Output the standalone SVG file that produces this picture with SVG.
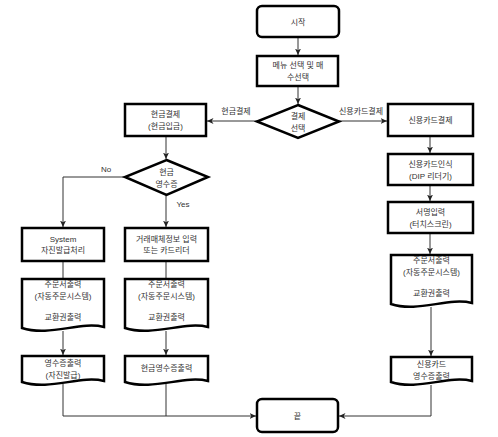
<svg xmlns="http://www.w3.org/2000/svg" width="498" height="437" viewBox="0 0 498 437">
<defs>
<style>
.b{fill:#fff;stroke:#000;stroke-width:2.5}
.c{fill:none;stroke:#333;stroke-width:1}
text{font-family:"Liberation Sans","Noto Sans CJK KR",sans-serif;font-size:8px;fill:#333;text-anchor:middle}
</style>
<marker id="a" viewBox="0 0 7 7" refX="6.5" refY="3.5" markerWidth="7" markerHeight="7" markerUnits="userSpaceOnUse" orient="auto">
<path d="M0,0.5 L6.5,3.5 L0,6.5 L1.8,3.5 z" fill="#222"/>
</marker>
</defs>
<g id="connectors">
<path class="c" d="M298,37 V55" marker-end="url(#a)"/>
<path class="c" d="M298,86 V104" marker-end="url(#a)"/>
<path class="c" d="M257,121 H207" marker-end="url(#a)"/>
<path class="c" d="M339,121 H387" marker-end="url(#a)"/>
<path class="c" d="M166,136 V159" marker-end="url(#a)"/>
<path class="c" d="M125,177 H63 V227" marker-end="url(#a)"/>
<path class="c" d="M166,195 V227" marker-end="url(#a)"/>
<path class="c" d="M63,261 V279"/>
<path class="c" d="M166,261 V279"/>
<path class="c" d="M63,331 V355" marker-end="url(#a)"/>
<path class="c" d="M166,331 V355" marker-end="url(#a)"/>
<path class="c" d="M63,384 V416 H256" marker-end="url(#a)"/>
<path class="c" d="M166,384 V416"/>
<path class="c" d="M430,136 V153" marker-end="url(#a)"/>
<path class="c" d="M430,185 V201" marker-end="url(#a)"/>
<path class="c" d="M430,233 V254" marker-end="url(#a)"/>
<path class="c" d="M431,307 V356" marker-end="url(#a)"/>
<path class="c" d="M431,385 V416 H339" marker-end="url(#a)"/>
<text x="236" y="114">현금결제</text>
<text x="361" y="114">신용카드결제</text>
<text x="106" y="172">No</text>
<text x="183" y="207">Yes</text>
</g>
<g id="start"><rect class="b" x="257" y="6" width="82" height="31" rx="5"/><text x="298" y="25">시작</text></g>
<g id="menu"><rect class="b" x="257" y="56" width="81" height="30"/><text x="298" y="68">메뉴 선택 및 매</text><text x="298" y="80">수선택</text></g>
<g id="paychoice"><path class="b" d="M298,105 L339,121.5 L298,138 L257,121.5 Z"/><text x="298" y="119">결제</text><text x="298" y="131">선택</text></g>
<g id="cash"><rect class="b" x="125" y="104" width="81" height="32"/><text x="165.5" y="117">현금결제</text><text x="165.5" y="129">(현금입금)</text></g>
<g id="credit"><rect class="b" x="388" y="104" width="85" height="32"/><text x="430.5" y="123">신용카드결제</text></g>
<g id="cardread"><rect class="b" x="388" y="154" width="85" height="31"/><text x="430.5" y="167">신용카드인식</text><text x="430.5" y="179">(DIP 리더기)</text></g>
<g id="sign"><rect class="b" x="388" y="202" width="85" height="31"/><text x="430.5" y="215">서명입력</text><text x="430.5" y="227">(터치스크린)</text></g>
<g id="receiptq"><path class="b" d="M166.5,160 L208,177 L166.5,195 L125,177 Z"/><text x="166.5" y="175">현금</text><text x="166.5" y="187">영수증</text></g>
<g id="system"><rect class="b" x="22" y="228" width="82" height="33"/><text x="63" y="242">System</text><text x="63" y="253">자진발급처리</text></g>
<g id="trade"><rect class="b" x="125" y="228" width="83" height="33"/><text x="166.5" y="242">거래매체정보 입력</text><text x="166.5" y="253">또는 카드리더</text></g>
<g id="doc1"><path class="b" d="M22,279 H104 V327 C80,321 50,337 22,328 Z"/><text x="63" y="287">주문서출력</text><text x="63" y="299">(자동주문시스템)</text><text x="63" y="320">교환권출력</text></g>
<g id="doc2"><path class="b" d="M125,279 H208 V327 C184,321 153,337 125,328 Z"/><text x="166.5" y="287">주문서출력</text><text x="166.5" y="299">(자동주문시스템)</text><text x="166.5" y="320">교환권출력</text></g>
<g id="doc3"><path class="b" d="M391,255 H472 V303 C448,297 418,313 391,304 Z"/><text x="431.5" y="263">주문서출력</text><text x="431.5" y="275">(자동주문시스템)</text><text x="431.5" y="296">교환권출력</text></g>
<g id="rcpt1"><path class="b" d="M22,356 H104 V381 C80,375 50,391 22,382 Z"/><text x="63" y="366">영수증출력</text><text x="63" y="378">(자진발급)</text></g>
<g id="rcpt2"><path class="b" d="M125,356 H208 V381 C184,375 153,391 125,382 Z"/><text x="166.5" y="371">현금영수증출력</text></g>
<g id="rcpt3"><path class="b" d="M391,357 H472 V381 C448,375 418,391 391,382 Z"/><text x="431.5" y="367">신용카드</text><text x="431.5" y="379">영수증출력</text></g>
<g id="end"><rect class="b" x="257" y="399" width="81" height="33" rx="5"/><text x="297.5" y="419">끝</text></g>
</svg>
